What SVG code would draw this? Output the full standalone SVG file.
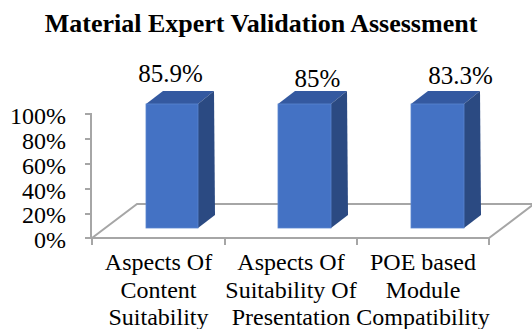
<svg xmlns="http://www.w3.org/2000/svg" width="532" height="329" viewBox="0 0 532 329">
<style>
text{font-family:'Liberation Serif','DejaVu Serif',serif;fill:#000}
.title{font-size:26px;font-weight:bold;text-anchor:middle}
.ax{font-size:24px;text-anchor:end}
.val{font-size:25px;text-anchor:middle}
.cat{font-size:24px;text-anchor:middle}
.grid{fill:none;stroke:#a6a6a6;stroke-width:2}
.front{fill:#4472c4;stroke:#5a85cf;stroke-width:0.8}
.top{fill:#3459a0}
.side{fill:#2b4a82}
</style>
<rect width="532" height="329" fill="#fff"/>
<text class="title" x="261" y="32" font-family="Liberation Serif, DejaVu Serif, serif">Material Expert Validation Assessment</text>
<g id="axes">
<polyline class="grid" points="92,238 137,204 534,204 489,238 92,238"/>
<line class="grid" x1="91" y1="113" x2="91" y2="239"/>
<g class="grid">
<line x1="85" y1="114" x2="91" y2="114"/>
<line x1="85" y1="139" x2="91" y2="139"/>
<line x1="85" y1="164" x2="91" y2="164"/>
<line x1="85" y1="189" x2="91" y2="189"/>
<line x1="85" y1="214" x2="91" y2="214"/>
<line x1="85" y1="238" x2="91" y2="238"/>
<line x1="92" y1="238" x2="92" y2="245"/>
<line x1="225" y1="238" x2="225" y2="245"/>
<line x1="357" y1="238" x2="357" y2="245"/>
<line x1="489" y1="238" x2="489" y2="245"/>
</g>
<g font-family="Liberation Serif, DejaVu Serif, serif">
<text class="ax" x="66" y="124">100%</text>
<text class="ax" x="66" y="149">80%</text>
<text class="ax" x="66" y="174">60%</text>
<text class="ax" x="66" y="199">40%</text>
<text class="ax" x="66" y="223">20%</text>
<text class="ax" x="66" y="248">0%</text>
</g>
</g>
<g id="bar1">
<polygon class="top" points="146,104 163,91 214,91 198,104"/>
<polygon class="side" points="198,104 214,91 215,215 198,228"/>
<rect class="front" x="146" y="104" width="52" height="124"/>
<text class="val" x="170.5" y="82" font-family="Liberation Serif, DejaVu Serif, serif">85.9%</text>
</g>
<g id="bar2">
<polygon class="top" points="278,104 295,91 347,91 331,104"/>
<polygon class="side" points="331,104 347,91 348,215 331,228"/>
<rect class="front" x="278" y="104" width="53" height="124"/>
<text class="val" x="317.5" y="87" font-family="Liberation Serif, DejaVu Serif, serif">85%</text>
</g>
<g id="bar3">
<polygon class="top" points="411,104 428,91 480,91 464,104"/>
<polygon class="side" points="464,104 480,91 481,215 464,228"/>
<rect class="front" x="411" y="104" width="53" height="124"/>
<text class="val" x="460.5" y="84" font-family="Liberation Serif, DejaVu Serif, serif">83.3%</text>
</g>
<g id="labels" font-family="Liberation Serif, DejaVu Serif, serif">
<text class="cat" x="158.5" y="270">Aspects Of</text>
<text class="cat" x="158.5" y="298">Content</text>
<text class="cat" x="158.5" y="325">Suitability</text>
<text class="cat" x="291" y="270">Aspects Of</text>
<text class="cat" x="291" y="298">Suitability Of</text>
<text class="cat" x="291" y="325">Presentation</text>
<text class="cat" x="423" y="270">POE based</text>
<text class="cat" x="423" y="298">Module</text>
<text class="cat" x="423" y="325">Compatibility</text>
</g>
<g id="connectors"></g>
</svg>
